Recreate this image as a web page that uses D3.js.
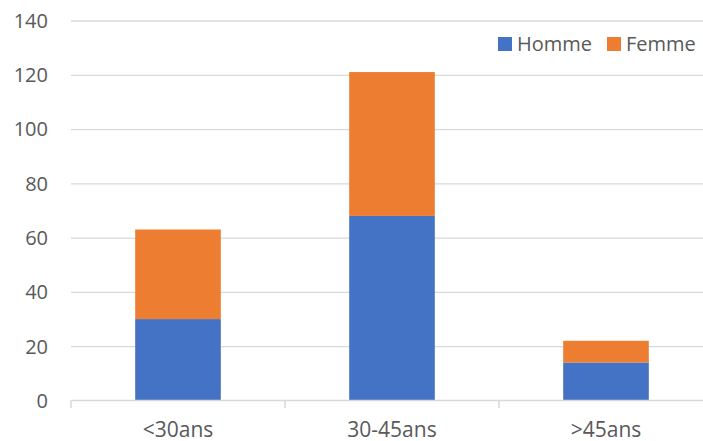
<!DOCTYPE html>
<html><head><meta charset="utf-8">
<script src="https://cdn.jsdelivr.net/npm/d3@7"></script>
<style>html,body{margin:0;padding:0;background:#fff;overflow:hidden}</style>
</head><body>
<svg id="chart" width="703" height="441"></svg>
<script>
const categories = ["<30ans", "30-45ans", ">45ans"];
const seriesNames = ["Homme", "Femme"];
const homme = [30, 68, 14];
const femme = [33, 53, 8];
const yTicks = [0, 20, 40, 60, 80, 100, 120, 140];
const colors = ["#4472C4", "#ED7D31"];

const svg = d3.select("#chart");
const font = "'Open Sans', sans-serif";
const textColor = "#595959";
const gridColor = "#d9d9d9";

const x = d3.scaleBand().domain(categories).range([71, 713]).paddingInner(0.6).paddingOuter(0.3);
const y = d3.scaleLinear().domain([0, 140]).range([400.5, 20.5]);

const table = categories.map((c, i) => ({cat: c, Homme: homme[i], Femme: femme[i]}));
const stacked = d3.stack().keys(seriesNames)(table);

// gridlines
const grid = svg.append("g").attr("transform", "translate(71,0)")
  .call(d3.axisLeft(y).tickValues(yTicks.slice(1)).tickSize(-642).tickFormat(""));
grid.select(".domain").remove();
grid.selectAll("line").attr("stroke", gridColor).attr("stroke-width", 1.3);

// y labels
const yAxis = svg.append("g").attr("transform", "translate(48,0)")
  .call(d3.axisLeft(y).tickValues(yTicks).tickSize(0).tickPadding(0));
yAxis.select(".domain").remove();
yAxis.selectAll("text").attr("font-family", font).attr("font-size", 20).attr("fill", textColor).attr("dy", "0.34em");

// bars
svg.append("g").selectAll("g").data(stacked).join("g")
  .attr("fill", (d, i) => colors[i])
  .selectAll("rect").data(d => d).join("rect")
  .attr("x", d => x(d.data.cat))
  .attr("width", x.bandwidth())
  .attr("y", d => y(d[1]))
  .attr("height", d => y(d[0]) - y(d[1]));

// x axis
const step = x.step();
const gap = step - x.bandwidth();
const bounds = categories.map(c => x(c) - gap / 2);
const xAxis = svg.append("g").attr("transform", "translate(0,400.5)");
xAxis.append("line").attr("x1", 71).attr("x2", 713).attr("stroke", gridColor).attr("stroke-width", 1.5);
xAxis.selectAll("line.tick").data(bounds).join("line").attr("class", "tick")
  .attr("x1", d => d).attr("x2", d => d).attr("y1", 0).attr("y2", 7.5)
  .attr("stroke", gridColor).attr("stroke-width", 1.5);
const xl = svg.append("g").attr("transform", "translate(0,400.5)")
  .call(d3.axisBottom(x).tickSize(0).tickPadding(0));
xl.select(".domain").remove();
xl.selectAll("text").attr("font-family", font).attr("font-size", 21).attr("fill", textColor)
  .attr("dy", null).attr("y", 36);

// legend
const legendItems = [{name: "Homme", sx: 498, tx: 517}, {name: "Femme", sx: 607, tx: 626}];
const lg = svg.append("g");
legendItems.forEach((it, i) => {
  lg.append("rect").attr("x", it.sx).attr("y", 37).attr("width", 14).attr("height", 14).attr("fill", colors[i]);
  lg.append("text").attr("x", it.tx).attr("y", 51).text(seriesNames[i])
    .attr("font-family", font).attr("font-size", 20).attr("fill", textColor);
});
</script>
</body></html>
